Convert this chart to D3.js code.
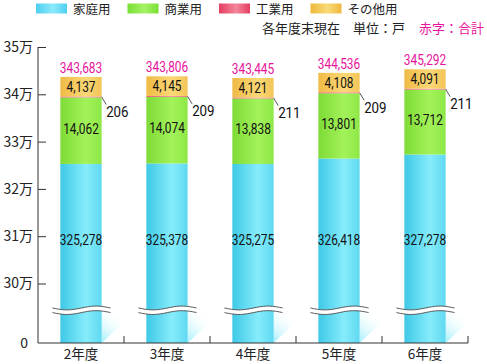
<!DOCTYPE html>
<html><head><meta charset="utf-8">
<script src="https://cdn.jsdelivr.net/npm/d3@7"></script>
<style>
html,body{margin:0;padding:0;background:#fff;}
svg{display:block;}
.jp{font-family:"Noto Sans CJK JP","Noto Sans",sans-serif;}
.num{font-family:Roboto,"Noto Sans",sans-serif;}
</style>
</head><body>
<svg id="c" width="487" height="364"></svg>
<script>
// ---- data ----
const categories = ["2年度","3年度","4年度","5年度","6年度"];
const seriesNames = ["家庭用","商業用","工業用","その他用"];
const household = [325278, 325378, 325275, 326418, 327278];
const commercial = [14062, 14074, 13838, 13801, 13712];
const industrial = [206, 209, 211, 209, 211];
const others = [4137, 4145, 4121, 4108, 4091];
const totals = [343683, 343806, 343445, 344536, 345292];
const yTicks = [0, 300000, 310000, 320000, 330000, 340000, 350000];
const noteText = "各年度末現在　単位：戸";
const noteRed = "赤字：合計";

// ---- styles ----
const grad = {
  "家庭用": ["#3ec9e7", "#86ecfb", "#5fd9f1"],
  "商業用": ["#7edb36", "#a3f25a", "#8ee846"],
  "工業用": ["#e8516e", "#f48a9c", "#ec6a82"],
  "その他用": ["#f0ba45", "#fbd876", "#f3c557"]
};
const legendGrad = {
  "家庭用": ["#4ecff0", "#8ce9fb"],
  "商業用": ["#7adf36", "#a4f264"],
  "工業用": ["#e53d62", "#f3869a"],
  "その他用": ["#efb73e", "#f8db78"]
};
const magenta = "#e8139a";
const numSize = 14.5, numScale = 0.82;

const svg = d3.select("#c");
const defs = svg.append("defs");
seriesNames.forEach((s, i) => {
  const g = defs.append("linearGradient").attr("id", "g" + i).attr("x1", 0).attr("x2", 1).attr("y1", 0).attr("y2", 0);
  g.append("stop").attr("offset", "0%").attr("stop-color", grad[s][0]);
  g.append("stop").attr("offset", "62%").attr("stop-color", grad[s][1]);
  g.append("stop").attr("offset", "100%").attr("stop-color", grad[s][2]);
  const lg = defs.append("linearGradient").attr("id", "lg" + i).attr("x1", 0).attr("x2", 1).attr("y1", 0).attr("y2", 0);
  lg.append("stop").attr("offset", "0%").attr("stop-color", legendGrad[s][0]);
  lg.append("stop").attr("offset", "55%").attr("stop-color", legendGrad[s][1]);
  lg.append("stop").attr("offset", "100%").attr("stop-color", legendGrad[s][0]);
});
const sg = defs.append("linearGradient").attr("id", "shadow").attr("x1", 0).attr("y1", 1).attr("x2", 0.7).attr("y2", 0.2);
sg.append("stop").attr("offset", "0%").attr("stop-color", "#9aeefb").attr("stop-opacity", 0.95);
sg.append("stop").attr("offset", "100%").attr("stop-color", "#ffffff").attr("stop-opacity", 0);

// ---- scales ----
const x = d3.scaleBand().domain(categories).range([38, 468]).paddingInner(0.52).paddingOuter(0.26);
const y = d3.scaleLinear().domain([0, 300000, 350000]).range([343, 283.5, 47]);
const bw = x.bandwidth();
const fmt = d3.format(",");

// ---- stacked data ----
const rows = categories.map((c, i) => ({cat: c, "家庭用": household[i], "商業用": commercial[i], "工業用": industrial[i], "その他用": others[i]}));
const stack = d3.stack().keys(seriesNames)(rows);

// shadows
const baseY = y(0);
svg.append("g").selectAll("path").data(categories).join("path")
  .attr("d", c => {
    const x0 = x(c) + bw, top = y(165000) + 2;
    return `M${x0},${baseY}L${x0 + 33},${top}L${x0},${top}Z`;
  })
  .attr("fill", "url(#shadow)");

// bars
stack.forEach((layer, li) => {
  svg.append("g").selectAll("rect").data(layer).join("rect")
    .attr("x", d => x(d.data.cat))
    .attr("y", d => y(d[1]))
    .attr("width", bw)
    .attr("height", d => Math.max(y(d[0]) - y(d[1]), 1))
    .attr("fill", `url(#g${li})`);
});

// break waves
const waveY = y(165000);
function wave(x0, x1, yc, amp) {
  return d3.range(0, 41).map(k => {
    const t = k / 40;
    return [x0 + (x1 - x0) * t, yc + amp * Math.sin(2 * Math.PI * t)];
  });
}
categories.forEach(c => {
  const x0 = x(c) - 8, x1 = x(c) + bw + 9;
  const up = wave(x0, x1, waveY - 2.3, 1.9);
  const lo = wave(x0, x1, waveY + 2.3, 1.9);
  const line = d3.line().curve(d3.curveBasis);
  svg.append("path").attr("d", line(up.concat(lo.slice().reverse()))).attr("fill", "#fff").attr("stroke", "none");
  svg.append("path").attr("d", line(up)).attr("fill", "none").attr("stroke", "#555").attr("stroke-width", 1);
  svg.append("path").attr("d", line(lo)).attr("fill", "none").attr("stroke", "#555").attr("stroke-width", 1);
});

// ---- axes ----
const yAxis = d3.axisLeft(y).tickValues(yTicks).tickSize(-8).tickPadding(5)
  .tickFormat(d => d === 0 ? "0" : (d / 10000) + "万");
const gy = svg.append("g").attr("transform", "translate(38,0)").call(yAxis);
gy.select(".domain").remove();
gy.selectAll(".tick line").attr("stroke", "#333");
gy.selectAll(".tick").filter(d => d === 0).select("line").remove();
gy.selectAll(".tick text").attr("class", "jp").attr("font-size", 14).attr("fill", "#222");
gy.selectAll(".tick").filter(d => d === 0).select("text").attr("x", -10);
svg.append("line").attr("x1", 38).attr("x2", 38).attr("y1", y(350000)).attr("y2", baseY).attr("stroke", "#333");

const gx = svg.append("g").attr("transform", `translate(0,${baseY})`).call(d3.axisBottom(x).tickSize(0).tickPadding(6));
gx.select(".domain").remove();
gx.selectAll(".tick text").attr("class", "jp").attr("font-size", 13.5).attr("fill", "#222");
svg.append("line").attr("x1", 38).attr("x2", 468).attr("y1", baseY).attr("y2", baseY).attr("stroke", "#333");
svg.append("g").selectAll("line").data(categories).join("line")
  .attr("x1", c => x(c) + bw + (x.step() - bw) / 2)
  .attr("x2", c => x(c) + bw + (x.step() - bw) / 2)
  .attr("y1", baseY).attr("y2", baseY - 7).attr("stroke", "#333");

// ---- labels ----
function numLabel(g, cx, cy, txt, color, anchor, size, sc) {
  g.append("text").attr("class", "num").attr("font-size", size || numSize)
    .attr("text-anchor", anchor || "middle").attr("dy", "0.36em")
    .attr("transform", `translate(${cx},${cy}) scale(${sc || numScale},1)`)
    .attr("fill", color).text(txt);
}
const lab = svg.append("g");
stack[0].forEach(d => numLabel(lab, x(d.data.cat) + bw / 2, y(309200), fmt(d[1] - d[0]), "#111"));
stack[1].forEach(d => numLabel(lab, x(d.data.cat) + bw / 2, (y(d[0]) + y(d[1])) / 2 - 2, fmt(d[1] - d[0]), "#111"));
stack[3].forEach(d => numLabel(lab, x(d.data.cat) + bw / 2, (y(d[0]) + y(d[1])) / 2, fmt(d[1] - d[0]), "#111"));
categories.forEach((c, i) => numLabel(lab, x(c) + bw / 2, y(totals[i]) - 9.5, fmt(totals[i]), magenta));

// industrial with leader
const ind = svg.append("g");
stack[2].forEach(d => {
  const x0 = x(d.data.cat) + bw, ym = (y(d[0]) + y(d[1])) / 2;
  ind.append("line").attr("x1", x0).attr("y1", ym).attr("x2", x0 + 4.5).attr("y2", ym + 7.5)
    .attr("stroke", "#444").attr("stroke-width", 0.9);
  numLabel(ind, x0 + 4.5, ym + 14.5, fmt(d[1] - d[0]), "#111", "start", 15.5, 0.86);
});

// ---- legend ----
const leg = svg.append("g").selectAll("g").data(seriesNames).join("g")
  .attr("transform", (d, i) => `translate(${36 + i * 91.5},3.5)`);
leg.append("rect").attr("width", 31).attr("height", 10).attr("fill", (d, i) => `url(#lg${i})`);
leg.append("text").attr("class", "jp").attr("x", 37).attr("y", 5.5).attr("dy", "0.36em")
  .attr("font-size", 12.5).attr("fill", "#222").text(d => d);

svg.append("text").attr("class", "jp").attr("x", 405).attr("y", 28).attr("dy", "0.36em")
  .attr("text-anchor", "end").attr("font-size", 13).attr("fill", "#222").text(noteText);
svg.append("text").attr("class", "jp").attr("x", 484).attr("y", 28).attr("dy", "0.36em")
  .attr("text-anchor", "end").attr("font-size", 13).attr("fill", magenta).text(noteRed);
</script>
</body></html>
